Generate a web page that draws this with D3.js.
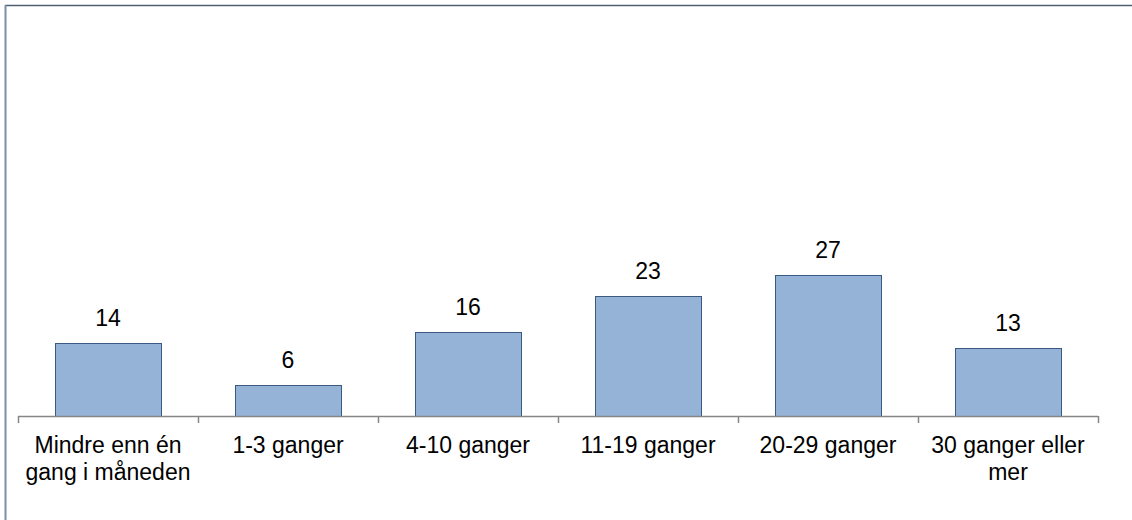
<!DOCTYPE html>
<html>
<head>
<meta charset="utf-8">
<script src="https://cdn.jsdelivr.net/npm/d3@7"></script>
<style>
  html, body { margin: 0; padding: 0; background: #ffffff; }
  svg { display: block; }
  text { font-family: "Liberation Sans", Arial, sans-serif; fill: #000; }
</style>
</head>
<body>
<svg id="chart" width="1132" height="520"></svg>
<script>
// Category labels (each entry is the list of wrapped lines)
const categoryLines = [
  ["Mindre enn én", "gang i måneden"],
  ["1-3 ganger"],
  ["4-10 ganger"],
  ["11-19 ganger"],
  ["20-29 ganger"],
  ["30 ganger eller", "mer"]
];
const categories = categoryLines.map(l => l.join(" "));
const values = [14, 6, 16, 23, 27, 13];

const svg = d3.select("#chart");
const W = 1132, H = 520;

// Outer frame
svg.append("line").attr("x1", 5).attr("x2", W).attr("y1", 5.5).attr("y2", 5.5)
  .attr("stroke", "#4f6070").attr("stroke-width", 1.5);
svg.append("line").attr("x1", 5.5).attr("x2", 5.5).attr("y1", 5).attr("y2", H)
  .attr("stroke", "#7d8ea5").attr("stroke-width", 2);

const x0 = 18, x1 = 1098, baseY = 416;

const x = d3.scaleBand()
  .domain(categories)
  .range([x0, x1])
  .paddingInner(0.411)
  .paddingOuter(0.2055);

const y = d3.scaleLinear()
  .domain([0, 30])
  .range([baseY, baseY - 30 * 5.22]);

// Bars
svg.append("g").selectAll("rect")
  .data(values)
  .join("rect")
  .attr("x", (d, i) => Math.round(x(categories[i])) + 0.5)
  .attr("y", d => Math.round(y(d)) + 0.5)
  .attr("width", Math.round(x.bandwidth()))
  .attr("height", d => baseY - Math.round(y(d)))
  .attr("fill", "#95b3d7")
  .attr("stroke", "#3a5a82")
  .attr("stroke-width", 1);

// Value labels
svg.append("g").selectAll("text")
  .data(values)
  .join("text")
  .attr("x", (d, i) => x(categories[i]) + x.bandwidth() / 2)
  .attr("y", d => y(d) - 17)
  .attr("text-anchor", "middle")
  .style("font-size", "23px")
  .text(d => d);

// Category axis: baseline with tick marks at category boundaries
const axisG = svg.append("g");
axisG.append("line")
  .attr("x1", x0).attr("x2", x1)
  .attr("y1", baseY + 0.5).attr("y2", baseY + 0.5)
  .attr("stroke", "#868686").attr("stroke-width", 1.5);
const step = x.step();
const boundaries = d3.range(categories.length + 1).map(i => x0 + i * step);
axisG.selectAll("line.tick")
  .data(boundaries)
  .join("line")
  .attr("class", "tick")
  .attr("x1", d => d + 0.5).attr("x2", d => d + 0.5)
  .attr("y1", baseY).attr("y2", baseY + 7)
  .attr("stroke", "#868686").attr("stroke-width", 1.5);

// Category labels
const labelG = svg.append("g");
categoryLines.forEach((lines, i) => {
  const t = labelG.append("text")
    .attr("x", x(categories[i]) + x.bandwidth() / 2)
    .attr("y", 453)
    .attr("text-anchor", "middle")
    .style("font-size", "23px");
  lines.forEach((ln, j) => {
    t.append("tspan")
      .attr("x", x(categories[i]) + x.bandwidth() / 2)
      .attr("y", 453 + j * 27)
      .text(ln);
  });
});
</script>
</body>
</html>
